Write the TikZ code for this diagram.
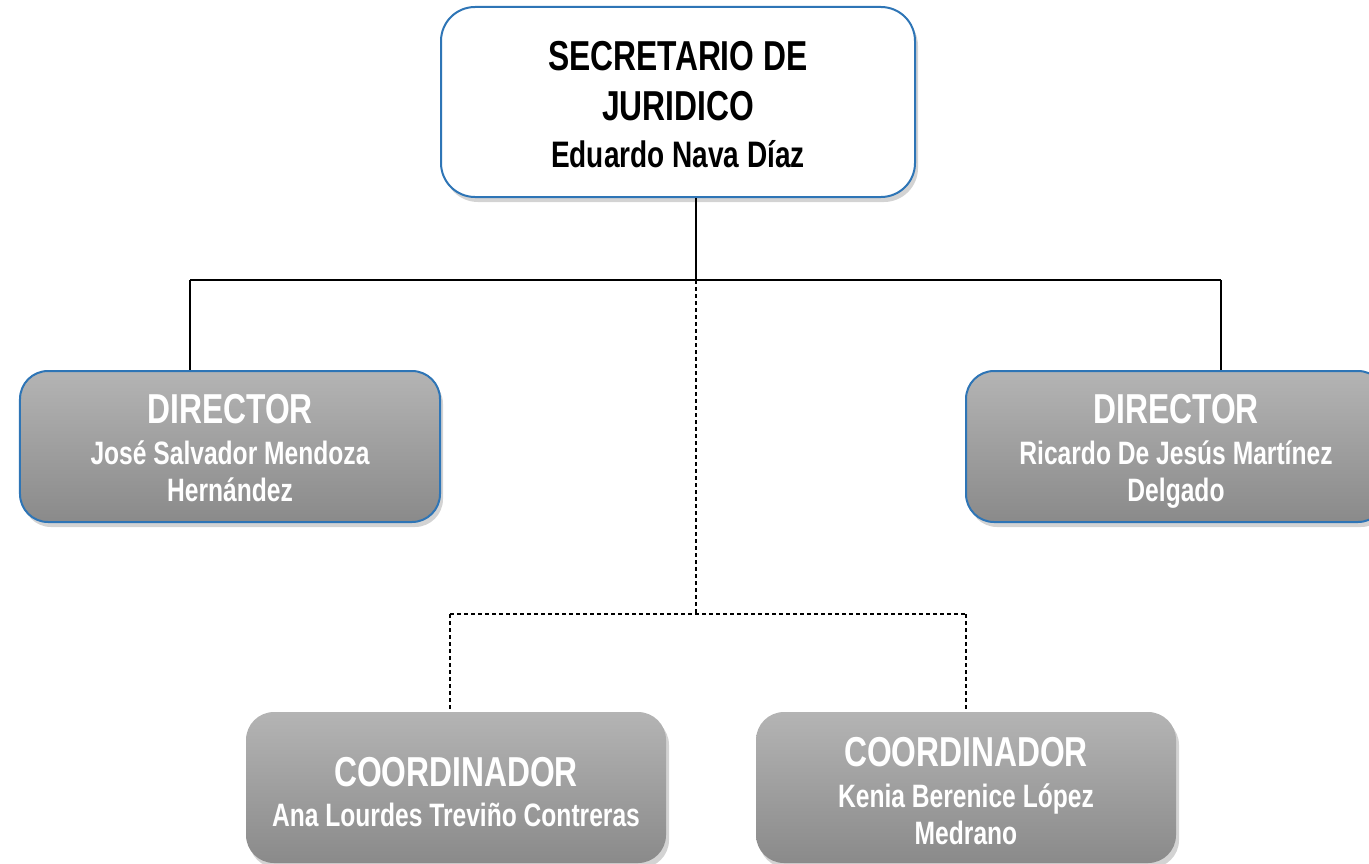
\documentclass[tikz,border=0pt]{standalone}
\usepackage{fontspec}
\usepackage{tikz}
\usetikzlibrary{shadows}
\newfontfamily\orgfont{Liberation Sans}[FakeStretch=0.76]
\definecolor{boxblue}{HTML}{2E75B6}
\definecolor{graytop}{HTML}{B4B4B4}
\definecolor{graybot}{HTML}{8A8A8A}
\newcommand\nm[1]{{\fontsize{32.5}{37}\selectfont #1}}
\newcommand\nmtop[1]{{\fontsize{37}{44}\selectfont #1}}
\newcommand\lift[1]{\rule{0pt}{#1bp}}

\begin{document}
\begin{tikzpicture}[x=1bp,y=-1bp,
  topbox/.style={draw=boxblue,line width=2bp,fill=white,rounded corners=34bp,
    minimum width=474bp,minimum height=190bp,align=center,text=black,
    font=\orgfont\bfseries\fontsize{42}{51}\selectfont,
    drop shadow={shadow xshift=3bp,shadow yshift=-5bp,opacity=0.35}},
  dirbox/.style={draw=boxblue,line width=2bp,top color=graytop,bottom color=graybot,
    rounded corners=28bp,minimum width=420bp,minimum height=151bp,align=center,
    text=white,font=\orgfont\bfseries\fontsize{42}{37}\selectfont,
    drop shadow={shadow xshift=3bp,shadow yshift=-5bp,opacity=0.35}},
  coordbox/.style={dirbox,draw=none},
  conn/.style={line width=1.1bp},
  dconn/.style={line width=1.1bp,dash pattern=on 4bp off 3bp}]
  \useasboundingbox (0,0) rectangle (1369,863);
  % Secretario
  \node[topbox] (sec) at (678,102)
    {\lift{34}SECRETARIO DE\\JURIDICO\\[-4bp]\nmtop{Eduardo Nava Díaz}};
  % Directores
  \node[dirbox] (dirL) at (230,446.5)
    {\lift{33}DIRECTOR\\[4bp]\nm{José Salvador Mendoza}\\\nm{Hernández}};
  \node[dirbox] (dirR) at (1176,446.5)
    {\lift{39}DIRECTOR\\[4bp]\nm{Ricardo De Jesús Martínez}\\\nm{Delgado}};
  % Coordinadores
  \node[coordbox] (coordL) at (456,787.5)
    {\lift{38}COORDINADOR\\[3bp]\nm{Ana Lourdes Treviño Contreras}};
  \node[coordbox] (coordR) at (966,787.5)
    {\lift{36}COORDINADOR\\[4bp]\nm{Kenia Berenice López}\\\nm{Medrano}};
  % Junctions
  \coordinate (hub) at (696,280);
  \coordinate (lt) at (190,280);
  \coordinate (rt) at (1221,280);
  \coordinate (dj) at (696,614);
  \coordinate (dl) at (450,614);
  \coordinate (dr) at (966,614);
  % Solid lines
  \draw[conn] (sec.south -| hub) -- (hub);
  \draw[conn] (lt) -- (rt);
  \draw[conn] (lt) -- (lt |- dirL.north);
  \draw[conn] (rt) -- (rt |- dirR.north);
  % Dashed lines
  \draw[dconn] (hub) -- (dj);
  \draw[dconn] (dl) -- (dr);
  \draw[dconn] (dl) -- (dl |- coordL.north);
  \draw[dconn] (dr) -- (dr |- coordR.north);
\end{tikzpicture}
\end{document}
